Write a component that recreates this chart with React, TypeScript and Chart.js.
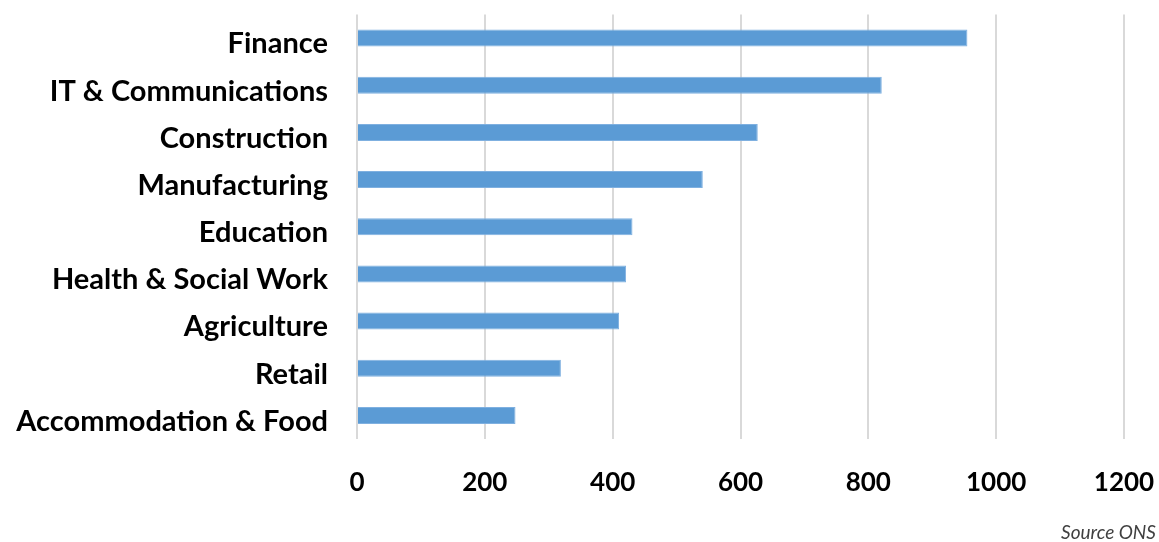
import { useEffect, useRef } from "react";
import { Chart, registerables } from "chart.js";

Chart.register(...registerables);

const categories = [
  "Finance",
  "IT & Communications",
  "Construction",
  "Manufacturing",
  "Education",
  "Health & Social Work",
  "Agriculture",
  "Retail",
  "Accommodation & Food",
];
const values = [955, 821, 627, 541, 431, 421, 410, 319, 248];
const xMin = 0;
const xMax = 1200;
const xStep = 200;
const sourceText = "Source ONS";

export default function App() {
  const ref = useRef<HTMLCanvasElement>(null);

  useEffect(() => {
    if (!ref.current) return;
    const yFont = { family: "Lato", weight: "bold" as const, size: 29 };
    const xFont = { family: "Lato", weight: "bold" as const, size: 26 };
    const chart = new Chart(ref.current, {
      type: "bar",
      data: {
        labels: categories,
        datasets: [
          {
            data: values,
            backgroundColor: "#5b9bd5",
            borderColor: "#7fb0e0",
            borderWidth: 1,
            barPercentage: 0.36,
            categoryPercentage: 1,
          },
        ],
      },
      options: {
        indexAxis: "y",
        responsive: false,
        maintainAspectRatio: false,
        animation: false,
        layout: { padding: { top: 14.5, right: 35, left: 0, bottom: 0 } },
        plugins: {
          legend: { display: false },
          tooltip: { enabled: false },
        },
        scales: {
          x: {
            min: xMin,
            max: xMax,
            ticks: {
              stepSize: xStep,
              font: xFont,
              color: "#000",
              padding: 28,
              callback: (v: any) => String(v),
            },
            grid: { color: "#d9d9d9", lineWidth: 2, drawTicks: false },
            border: { display: false },
            afterFit: (s: any) => {
              s.height = 103;
              s.paddingLeft = 0;
              s.paddingRight = 0;
            },
          },
          y: {
            grid: { display: false, drawTicks: false },
            border: { display: false },
            ticks: { font: yFont, color: "#000", padding: 29, labelOffset: 6 },
            afterFit: (s: any) => {
              s.width = 357;
              s.paddingTop = 0;
              s.paddingBottom = 0;
            },
          },
        },
      },
    });
    return () => chart.destroy();
  }, []);

  return (
    <div style={{ position: "absolute", left: 0, top: 0, width: 1159, height: 542, background: "#fff" }}>
      <canvas ref={ref} width={1159} height={542} style={{ width: 1159, height: 542 }} />
      <div
        style={{
          position: "absolute",
          right: 3,
          top: 520,
          fontFamily: "Lato, sans-serif",
          fontStyle: "italic",
          fontSize: 19,
          color: "#404040",
          lineHeight: "24px",
        }}
      >
        {sourceText}
      </div>
    </div>
  );
}
